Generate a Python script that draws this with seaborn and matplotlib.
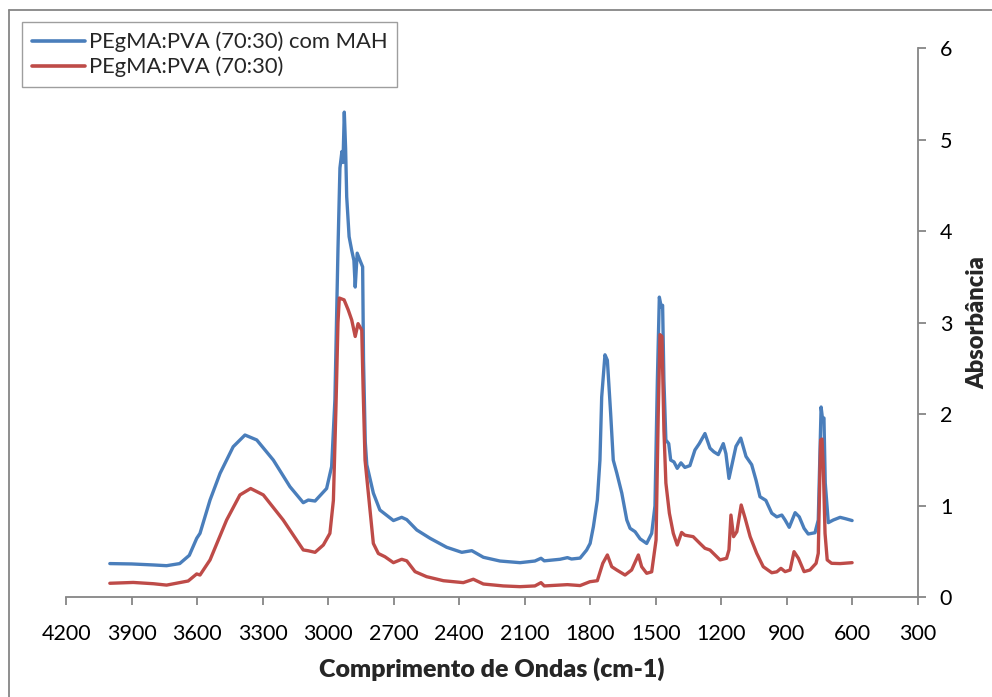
import numpy as np
import pandas as pd
import matplotlib
matplotlib.use("Agg")
import matplotlib.pyplot as plt
from matplotlib.lines import Line2D
import seaborn as sns

# ---------------- data ----------------
series_names = ["PEgMA:PVA (70:30) com MAH", "PEgMA:PVA (70:30)"]

wn_mah = [4000, 3900, 3800, 3740, 3680, 3636, 3602, 3587, 3541, 3495, 3435, 3381, 3327,
          3251, 3175, 3114, 3091, 3060, 3007, 2984, 2969, 2955, 2946, 2937, 2932, 2926,
          2920, 2915, 2904, 2892, 2882, 2876, 2867, 2854, 2842, 2838, 2830, 2823, 2793,
          2763, 2701, 2663, 2640, 2594, 2533, 2457, 2388, 2342, 2289, 2213, 2121, 2053,
          2025, 2010, 1938, 1904, 1885, 1846, 1816, 1800, 1785, 1767, 1755, 1747, 1732,
          1721, 1706, 1694, 1678, 1655, 1632, 1617, 1594, 1571, 1541, 1518, 1503, 1492,
          1483, 1474, 1468, 1462, 1453, 1440, 1431, 1416, 1401, 1384, 1366, 1343, 1320,
          1300, 1274, 1251, 1233, 1213, 1190, 1178, 1164, 1152, 1132, 1110, 1086, 1060,
          1040, 1022, 995, 968, 945, 922, 907, 888, 861, 842, 820, 801, 770, 755, 747,
          742, 735, 729, 723, 709, 686, 655, 630, 600]
abs_mah = [0.37, 0.366, 0.355, 0.347, 0.37, 0.46, 0.646, 0.70, 1.064, 1.356, 1.646, 1.774,
           1.72, 1.50, 1.21, 1.035, 1.064, 1.053, 1.19, 1.43, 2.16, 3.8, 4.69, 4.87, 4.75,
           5.30, 4.9, 4.375, 3.94, 3.79, 3.68, 3.39, 3.76, 3.68, 3.61, 2.6, 1.7, 1.45, 1.14,
           0.955, 0.84, 0.875, 0.85, 0.737, 0.646, 0.548, 0.493, 0.511, 0.439, 0.398, 0.38,
           0.398, 0.428, 0.40, 0.417, 0.435, 0.42, 0.43, 0.518, 0.59, 0.773, 1.064, 1.50,
           2.19, 2.65, 2.59, 2.01, 1.50, 1.36, 1.14, 0.846, 0.755, 0.718, 0.64, 0.59, 0.70,
           1.0, 2.37, 3.28, 3.17, 3.19, 2.37, 1.72, 1.68, 1.50, 1.48, 1.41, 1.47, 1.42, 1.44,
           1.61, 1.68, 1.79, 1.63, 1.59, 1.56, 1.68, 1.57, 1.30, 1.43, 1.65, 1.74, 1.54,
           1.45, 1.28, 1.10, 1.06, 0.92, 0.88, 0.90, 0.846, 0.766, 0.926, 0.88, 0.755, 0.693,
           0.707, 0.846, 1.61, 2.08, 1.94, 1.96, 1.25, 0.817, 0.846, 0.875, 0.86, 0.84]

wn_pure = [4000, 3893, 3800, 3740, 3641, 3602, 3587, 3541, 3465, 3404, 3355, 3297, 3206,
           3114, 3091, 3060, 3022, 2992, 2976, 2964, 2955, 2949, 2927, 2908, 2892, 2876,
           2863, 2846, 2840, 2831, 2793, 2770, 2740, 2701, 2663, 2640, 2602, 2549, 2472,
           2381, 2335, 2289, 2198, 2121, 2053, 2025, 2010, 1904, 1846, 1801, 1767, 1742,
           1721, 1701, 1678, 1640, 1610, 1579, 1564, 1541, 1518, 1498, 1488, 1480, 1471,
           1462, 1453, 1437, 1419, 1401, 1381, 1366, 1328, 1297, 1274, 1251, 1228, 1205,
           1175, 1164, 1155, 1143, 1128, 1108, 1090, 1067, 1037, 1007, 968, 945, 926, 907,
           884, 866, 846, 820, 793, 765, 755, 747, 744, 738, 732, 724, 714, 694, 655, 600]
abs_pure = [0.155, 0.164, 0.15, 0.135, 0.18, 0.257, 0.245, 0.41, 0.846, 1.12, 1.19, 1.12,
            0.846, 0.519, 0.51, 0.493, 0.573, 0.70, 1.06, 2.1, 3.0, 3.27, 3.25, 3.14, 3.03,
            2.85, 2.99, 2.92, 2.3, 1.5, 0.59, 0.48, 0.445, 0.38, 0.417, 0.40, 0.282, 0.227,
            0.183, 0.162, 0.199, 0.147, 0.126, 0.118, 0.126, 0.162, 0.126, 0.14, 0.13, 0.172,
            0.183, 0.373, 0.464, 0.336, 0.30, 0.245, 0.30, 0.464, 0.336, 0.264, 0.28, 0.628,
            2.01, 2.87, 2.85, 1.83, 1.25, 0.92, 0.70, 0.573, 0.71, 0.68, 0.664, 0.59, 0.537,
            0.518, 0.464, 0.41, 0.428, 0.52, 0.90, 0.664, 0.718, 1.01, 0.865, 0.664, 0.482,
            0.336, 0.27, 0.28, 0.318, 0.282, 0.30, 0.50, 0.428, 0.282, 0.30, 0.373, 0.482,
            1.43, 1.72, 1.73, 1.43, 0.70, 0.41, 0.373, 0.37, 0.38]

x_ticks = [4200, 3900, 3600, 3300, 3000, 2700, 2400, 2100, 1800, 1500, 1200, 900, 600, 300]
y_ticks = [0, 1, 2, 3, 4, 5, 6]
x_label = "Comprimento de Ondas (cm-1)"
y_label = "Absorbância"

# ---------------- build long-form table ----------------
df = pd.concat([
    pd.DataFrame({"wn": wn_mah, "A": abs_mah, "serie": series_names[0]}),
    pd.DataFrame({"wn": wn_pure, "A": abs_pure, "serie": series_names[1]}),
], ignore_index=True)

sns.set_theme(style="white")
plt.rcParams["font.family"] = ["Lato", "DejaVu Sans"]

colors = {series_names[0]: "#4A7EBB", series_names[1]: "#BE4B48"}
axis_gray = "#868686"

fig = plt.figure(figsize=(9.92, 6.97), dpi=100)
ax = fig.add_axes([0.0667, 0.1428, 0.8583, 0.7883])

sns.lineplot(data=df, x="wn", y="A", hue="serie", palette=colors, sort=False,
             estimator=None, linewidth=2.4, ax=ax, legend=False)

ax.set_xlim(4200, 300)
ax.set_ylim(0, 6)
ax.set_xticks(x_ticks)
ax.set_xticklabels([str(t) for t in x_ticks])
ax.set_yticks(y_ticks)
ax.set_yticklabels([str(t) for t in y_ticks])

ax.yaxis.tick_right()
ax.yaxis.set_label_position("right")
for s in ["top", "left"]:
    ax.spines[s].set_visible(False)
for s in ["right", "bottom"]:
    ax.spines[s].set_color(axis_gray)
    ax.spines[s].set_linewidth(1.3)
ax.tick_params(axis="both", which="major", direction="out", length=6, width=1.3,
               color=axis_gray, labelsize=15.5, labelcolor="black")
ax.tick_params(axis="x", pad=13, bottom=True)
ax.tick_params(axis="y", pad=10, right=True)
ax.grid(False)

ax.set_xlabel(x_label, fontsize=18, fontweight="heavy", labelpad=10)
ax.set_ylabel(y_label, fontsize=17, fontweight="heavy", labelpad=10)

# legend
handles = [Line2D([0], [0], color=colors[n], linewidth=2.6) for n in series_names]
leg = fig.legend(handles, series_names, loc="upper left",
                 bbox_to_anchor=(0.0222, 0.9684), bbox_transform=fig.transFigure,
                 fontsize=15.8, frameon=True, fancybox=False, borderaxespad=0,
                 handlelength=2.4, handletextpad=0.2, labelspacing=0.2,
                 borderpad=0.45)
leg.get_frame().set_edgecolor(axis_gray)
leg.get_frame().set_linewidth(1.0)

# outer chart frame (left and top edges visible in the reference)
fig.add_artist(Line2D([9 / 992, 9 / 992], [0, 1 - 10 / 697], transform=fig.transFigure,
                      color=axis_gray, linewidth=1.3))
fig.add_artist(Line2D([9 / 992, 1], [1 - 10 / 697, 1 - 10 / 697], transform=fig.transFigure,
                      color=axis_gray, linewidth=1.3))

fig.savefig("out.png", dpi=100)
